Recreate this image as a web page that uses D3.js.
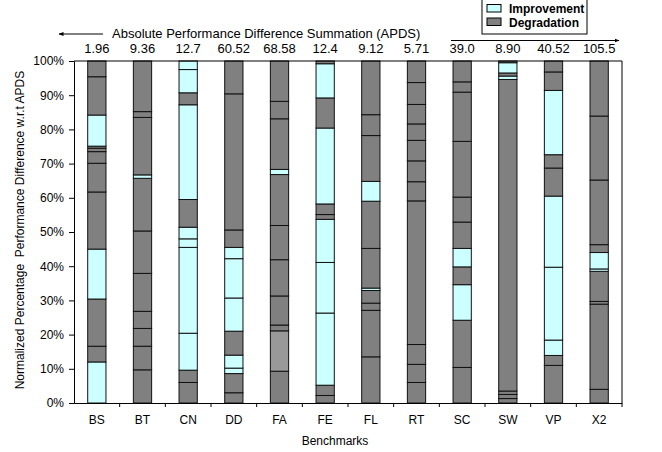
<!DOCTYPE html>
<html>
<head>
<meta charset="utf-8">
<script src="https://cdn.jsdelivr.net/npm/d3@7"></script>
<style>
  body { margin: 0; background: #fff; }
  svg { display: block; font-family: "Liberation Sans", Arial, sans-serif; }
</style>
</head>
<body>
<div id="chart"></div>
<script>
const benchmarks = ["BS", "BT", "CN", "DD", "FA", "FE", "FL", "RT", "SC", "SW", "VP", "X2"];
const apdsLabels = ["1.96", "9.36", "12.7", "60.52", "68.58", "12.4", "9.12", "5.71", "39.0", "8.90", "40.52", "105.5"];
const yTicks = [0, 10, 20, 30, 40, 50, 60, 70, 80, 90, 100];

// top edge (%) of each stacked segment, bottom to top
const segmentTops = [
  [12.0, 16.6, 30.4, 45.0, 61.7, 70.1, 73.5, 74.5, 75.1, 84.2, 95.4, 100],
  [9.7, 16.6, 21.8, 26.8, 37.9, 50.3, 65.7, 66.7, 83.5, 85.2, 100],
  [6.0, 9.6, 20.4, 45.5, 48.0, 51.4, 59.5, 87.2, 90.7, 97.5, 100],
  [3.0, 8.6, 10.2, 14.0, 21.0, 30.7, 42.2, 45.5, 50.6, 90.4, 100],
  [9.3, 21.1, 22.8, 31.3, 41.9, 51.9, 66.8, 68.3, 83.1, 88.2, 100],
  [2.2, 5.2, 26.3, 41.1, 53.7, 55.1, 58.2, 80.4, 89.2, 99.2, 100],
  [13.5, 27.1, 29.2, 32.9, 33.6, 45.2, 59.0, 64.8, 78.2, 84.3, 100],
  [6.0, 11.3, 17.1, 59.1, 64.7, 70.8, 76.8, 81.6, 87.3, 93.7, 100],
  [10.4, 24.2, 34.6, 39.8, 45.2, 52.9, 60.2, 76.5, 90.9, 93.9, 100],
  [1.3, 2.5, 3.5, 94.6, 95.6, 96.5, 99.5, 100],
  [11.0, 13.9, 18.4, 39.7, 60.5, 68.7, 72.6, 91.4, 96.8, 100],
  [4.0, 28.9, 29.7, 38.5, 39.2, 44.0, 46.3, 65.2, 83.9, 100]
];
// I = improvement, D = degradation, N = other (light grey)
const segmentTypes = [
  "IDDIDDDDDIDD",
  "DDDDDDDIDDD",
  "DDIIIIDIDII",
  "DDIIDIIIDDD",
  "DNDDDDDIDDD",
  "DDIIIDDIDID",
  "DDDDIDDIDDD",
  "DDDDDDDDDDD",
  "DDIDIDDDDDD",
  "DDDDIDID",
  "DDIIIDDIDD",
  "DDDDIIDDDD"
];

const legendItems = ["Improvement", "Degradation"];
const colors = { I: "#ccffff", D: "#808080", N: "#999999" };

const W = 662, H = 452;
const plotLeft = 74, plotRight = 622, plotTop = 61, plotBottom = 403;

const svg = d3.select("#chart").append("svg")
  .attr("width", W)
  .attr("height", H);

const x = d3.scaleBand()
  .domain(benchmarks)
  .range([plotLeft, plotRight]);

const y = d3.scaleLinear()
  .domain([0, 100])
  .range([plotBottom, plotTop]);

const barW = x.bandwidth() * 0.4;

// bars
benchmarks.forEach((b, i) => {
  const tops = segmentTops[i];
  const segs = tops.map((t, j) => ({ y0: j === 0 ? 0 : tops[j - 1], y1: t, type: segmentTypes[i][j] }));
  svg.append("g")
    .selectAll("rect")
    .data(segs)
    .join("rect")
      .attr("x", x(b) + (x.bandwidth() - barW) / 2)
      .attr("width", barW)
      .attr("y", d => y(d.y1))
      .attr("height", d => y(d.y0) - y(d.y1))
      .attr("fill", d => colors[d.type])
      .attr("stroke", "#111")
      .attr("stroke-width", 1);
});

// frame (top/right)
svg.append("path")
  .attr("d", `M${plotLeft},${plotTop}H${plotRight}V${plotBottom}`)
  .attr("fill", "none")
  .attr("stroke", "#000")
  .attr("stroke-width", 1);

// y axis
const yAxis = svg.append("g")
  .attr("transform", `translate(${plotLeft},0)`)
  .call(d3.axisLeft(y).tickValues(yTicks).tickFormat(d => d + "%").tickSize(5).tickPadding(5));
yAxis.selectAll("text").attr("font-size", 12).attr("fill", "#000").attr("font-family", "Liberation Sans, Arial, sans-serif");
yAxis.select(".domain").attr("stroke", "#000");

// x axis: labels centered, ticks on band edges
const xAxis = svg.append("g")
  .attr("transform", `translate(0,${plotBottom})`)
  .call(d3.axisBottom(x).tickSize(0).tickPadding(12));
xAxis.selectAll("text").attr("font-size", 12).attr("fill", "#000").attr("font-family", "Liberation Sans, Arial, sans-serif");
xAxis.select(".domain").attr("stroke", "#000");
svg.append("g")
  .selectAll("line")
  .data(benchmarks)
  .join("line")
    .attr("x1", d => x(d) + x.step())
    .attr("x2", d => x(d) + x.step())
    .attr("y1", plotBottom)
    .attr("y2", plotBottom + 4)
    .attr("stroke", "#000");

// APDS values above bars
svg.append("g")
  .selectAll("text")
  .data(benchmarks)
  .join("text")
    .attr("x", d => x(d) + x.bandwidth() / 2)
    .attr("y", 53)
    .attr("text-anchor", "middle")
    .attr("font-size", 13)
    .text((d, i) => apdsLabels[i]);

svg.append("text")
  .attr("x", 112)
  .attr("y", 38)
  .attr("font-size", 13)
  .text("Absolute Performance Difference Summation (APDS)");

// arrows
svg.append("defs").append("marker")
  .attr("id", "arrow")
  .attr("viewBox", "0 0 10 10")
  .attr("refX", 9).attr("refY", 5)
  .attr("markerWidth", 5).attr("markerHeight", 5)
  .attr("orient", "auto-start-reverse")
  .append("path")
    .attr("d", "M0,1L10,5L0,9z")
    .attr("fill", "#000");

svg.append("line")
  .attr("x1", 59).attr("x2", 103)
  .attr("y1", 34).attr("y2", 34)
  .attr("stroke", "#000")
  .attr("marker-start", "url(#arrow)");
svg.append("line")
  .attr("x1", 451).attr("x2", 619)
  .attr("y1", 40.5).attr("y2", 40.5)
  .attr("stroke", "#000")
  .attr("marker-end", "url(#arrow)");

// axis titles
svg.append("text")
  .attr("x", 335)
  .attr("y", 445)
  .attr("text-anchor", "middle")
  .attr("font-size", 12)
  .text("Benchmarks");

svg.append("text")
  .attr("transform", `translate(24,${(plotTop + plotBottom) / 2 - 2}) rotate(-90)`)
  .attr("text-anchor", "middle")
  .attr("font-size", 12)
  .style("white-space", "pre")
  .text("Normalized Percentage  Performance Difference w.r.t APDS");

// legend
const legend = svg.append("g");
legend.append("rect")
  .attr("x", 482).attr("y", -1)
  .attr("width", 105).attr("height", 35)
  .attr("fill", "#fff")
  .attr("stroke", "#000");
legend.selectAll("g.item")
  .data(legendItems)
  .join("g")
    .attr("class", "item")
    .each(function(d, i) {
      const g = d3.select(this);
      g.append("rect")
        .attr("x", 487).attr("y", 4.5 + i * 13.5)
        .attr("width", 14).attr("height", 7.5)
        .attr("fill", i === 0 ? colors.I : colors.D)
        .attr("stroke", "#000");
      g.append("text")
        .attr("x", 509).attr("y", 13 + i * 13.5)
        .attr("font-size", 12)
        .attr("font-weight", "bold")
        .text(d);
    });
</script>
</body>
</html>
